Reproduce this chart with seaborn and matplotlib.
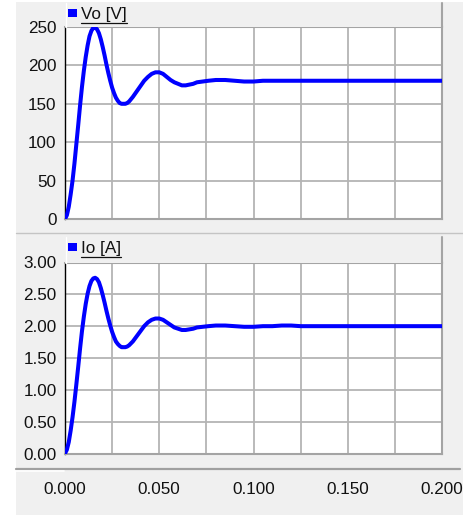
import matplotlib
matplotlib.use("Agg")
import matplotlib.pyplot as plt
from matplotlib.patches import Rectangle
from matplotlib.lines import Line2D
from matplotlib.ticker import FuncFormatter
import seaborn as sns

t = [0.000, 0.001, 0.002, 0.003, 0.004, 0.005, 0.006, 0.007, 0.008, 0.009,
     0.010, 0.011, 0.012, 0.013, 0.014, 0.015, 0.016, 0.017, 0.018, 0.019,
     0.020, 0.021, 0.022, 0.023, 0.024, 0.025, 0.026, 0.027, 0.028, 0.029,
     0.030, 0.031, 0.032, 0.033, 0.034, 0.035, 0.036, 0.038, 0.040, 0.042,
     0.044, 0.046, 0.048, 0.050, 0.052, 0.054, 0.056, 0.058, 0.060, 0.062,
     0.064, 0.066, 0.068, 0.070, 0.073, 0.076, 0.080, 0.085, 0.090, 0.095,
     0.100, 0.105, 0.110, 0.115, 0.120, 0.125, 0.140, 0.160, 0.180, 0.200]

vo = [0, 5, 16, 32, 50, 72, 97, 122, 148, 172,
      193, 211, 226, 238, 245, 249, 249, 247, 242, 234,
      224, 213, 201, 190, 180, 171, 164, 158, 154, 151,
      150, 150, 150, 151, 153, 156, 159, 166, 173, 180,
      185, 189, 191, 191, 189, 185, 181, 178, 176, 174,
      174, 175, 176, 178, 179, 180, 181, 181, 180, 179,
      179, 180, 180, 180, 180, 180, 180, 180, 180, 180]

io = [0.00, 0.06, 0.18, 0.36, 0.57, 0.81, 1.08, 1.36, 1.65, 1.92,
      2.15, 2.35, 2.51, 2.63, 2.71, 2.75, 2.76, 2.74, 2.69, 2.60,
      2.49, 2.37, 2.24, 2.12, 2.01, 1.91, 1.83, 1.76, 1.72, 1.69,
      1.67, 1.67, 1.67, 1.68, 1.70, 1.73, 1.76, 1.84, 1.92, 2.00,
      2.06, 2.10, 2.12, 2.12, 2.10, 2.06, 2.02, 1.98, 1.96, 1.94,
      1.94, 1.95, 1.96, 1.98, 1.99, 2.00, 2.01, 2.01, 2.00, 1.99,
      1.99, 2.00, 2.00, 2.01, 2.01, 2.00, 2.00, 2.00, 2.00, 2.00]

vo_ticks = [0, 50, 100, 150, 200, 250]
io_ticks = [0.0, 0.5, 1.0, 1.5, 2.0, 2.5, 3.0]
x_ticks = [0.000, 0.025, 0.050, 0.075, 0.100, 0.125, 0.150, 0.175, 0.200]

W, H = 464, 515
BG = "#f0f0f0"
GRID = "#b4b4b4"
FRAME = "#a4a4a4"
BLUE = "#0000ff"
TXT = "#111111"
FS = 12.3

sns.set_style("white")
plt.rcParams["font.family"] = ["Liberation Sans", "DejaVu Sans"]


def fx(px):
    return px / W


def fy(py):
    return 1 - py / H


fig = plt.figure(figsize=(W / 100, H / 100), dpi=100, facecolor="white")
fig.patches.append(Rectangle((fx(16), 0), 1 - fx(16), fy(2), transform=fig.transFigure,
                             facecolor=BG, edgecolor="none", zorder=-10))

# separator between the two panels
fig.add_artist(Line2D([fx(16), 1], [fy(233), fy(233)], color="#c4c4c4", lw=1.0))


def panel(head_top, top, bottom, label, y, ylim, yticks, fmt):
    # header strip with legend entry
    fig.patches.append(Rectangle((fx(65), fy(top)), fx(442) - fx(65), (top - head_top) / H,
                                 transform=fig.transFigure, facecolor=BG, edgecolor="none"))
    fig.add_artist(Line2D([fx(65.5), fx(65.5)], [fy(head_top), fy(top)], color="white", lw=1.0))
    fig.add_artist(Line2D([fx(442), fx(442)], [fy(head_top), fy(top)], color=FRAME, lw=1.5))
    fig.patches.append(Rectangle((fx(68), fy(head_top + 14)), fx(9), 8 / H,
                                 transform=fig.transFigure, facecolor=BLUE, edgecolor="none"))
    txt = fig.text(fx(81), fy(head_top + 11), label, fontsize=FS, color=TXT,
                   ha="left", va="center")
    fig.canvas.draw()
    bb = txt.get_window_extent(renderer=fig.canvas.get_renderer())
    fig.add_artist(Line2D([fx(81), bb.x1 / W], [fy(head_top + 20), fy(head_top + 20)],
                          color=TXT, lw=0.9))

    ax = fig.add_axes([fx(65), fy(bottom), fx(442) - fx(65), (bottom - top) / H])
    ax.set_facecolor("white")
    sns.lineplot(x=t, y=y, ax=ax, color=BLUE, lw=2.9, zorder=5)
    ax.set_xlim(0, 0.2)
    ax.set_ylim(*ylim)
    ax.set_xticks(x_ticks)
    ax.set_yticks(yticks)
    ax.yaxis.set_major_formatter(FuncFormatter(fmt))
    ax.tick_params(axis="x", length=0, labelbottom=False)
    ax.tick_params(axis="y", length=5, width=1, color="black", labelsize=FS,
                   labelcolor=TXT, pad=1)
    ax.grid(True, color=GRID, lw=1.3)
    ax.set_axisbelow(True)
    for side in ("top", "right", "bottom"):
        ax.spines[side].set_color(FRAME)
        ax.spines[side].set_linewidth(1.5)
    ax.spines["left"].set_color("black")
    ax.spines["left"].set_linewidth(1.0)
    ax.set_xlabel("")
    ax.set_ylabel("")
    return ax


panel(3, 27, 219, "Vo [V]", vo, (0, 250), vo_ticks, lambda v, p: f"{v:.0f}")
panel(237, 262.5, 453.5, "Io [A]", io, (0, 3), io_ticks, lambda v, p: f"{v:.2f}")

# shared time axis at the bottom
fig.add_artist(Line2D([fx(16), fx(460)], [fy(468.5), fy(468.5)], color="#a0a0a0", lw=1.6))
fig.add_artist(Line2D([fx(16), fx(64)], [fy(470.5), fy(470.5)], color="white", lw=1.2))
axx = fig.add_axes([fx(65), fy(469), fx(442) - fx(65), 0.001])
axx.set_facecolor("none")
for side in ("top", "right", "left", "bottom"):
    axx.spines[side].set_visible(False)
axx.set_xlim(0, 0.2)
axx.set_yticks([])
axx.set_xticks(x_ticks)
axx.set_xticklabels([f"{v:.3f}" if i % 2 == 0 else "" for i, v in enumerate(x_ticks)])
axx.tick_params(axis="x", length=6, width=1, color="black", labelsize=FS,
                labelcolor=TXT, pad=3)

fig.savefig("out.png", dpi=100, facecolor=fig.get_facecolor())
